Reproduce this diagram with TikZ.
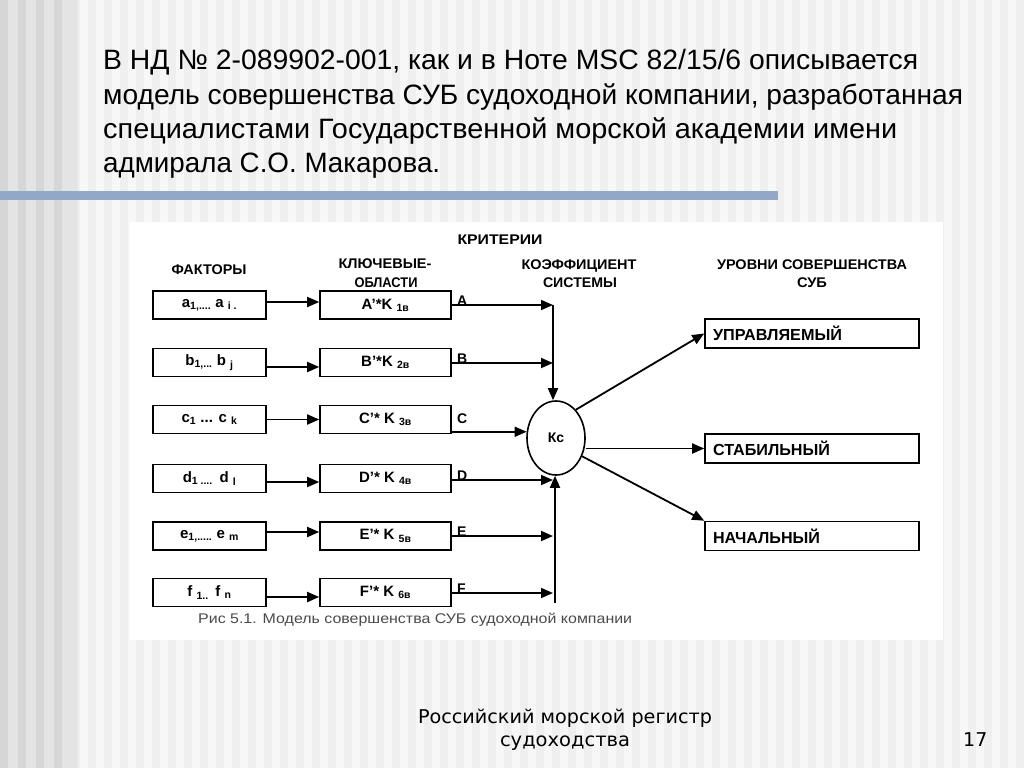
\documentclass[tikz,border=0pt]{standalone}
\usepackage{fontspec}
\setmainfont{Liberation Sans}
\newfontfamily\footfont{DejaVu Sans}
\usetikzlibrary{arrows.meta,shapes.geometric}
\definecolor{bgbase}{HTML}{EFEFEF}
\definecolor{bgstripe}{HTML}{F7F7F7}
\definecolor{bgleft}{HTML}{E4E4E4}
\definecolor{bgleftb}{HTML}{D6D6D6}
\definecolor{barblue}{HTML}{91A8C6}
\definecolor{captgray}{HTML}{4A4A4A}
\newsavebox\fitbox
\newlength\fitlen
\newcommand\fitw[2]{\sbox\fitbox{#2}\setlength\fitlen{\wd\fitbox}\pgfmathsetmacro\fitsc{#1/\fitlen}\scalebox{\fitsc}[1]{\usebox\fitbox}}
\tikzset{
  titletext/.style={inner sep=0pt, anchor=base west, font=\fontsize{28}{32}\selectfont},
  hdr/.style={inner sep=0pt, anchor=base, font=\bfseries\fontsize{14}{16}\selectfont},
  box/.style={draw, line width=1.6pt, inner sep=0pt, font=\bfseries\fontsize{15}{17}\selectfont},
  lbox/.style={box, minimum width=113pt, minimum height=28pt},
  mbox/.style={box, minimum width=131pt, minimum height=28pt},
  rbox/.style={box, minimum width=214pt, minimum height=29pt, text width=198pt, align=left, font=\bfseries\fontsize{16}{18}\selectfont},
  lett/.style={inner sep=0pt, anchor=base west, font=\bfseries\fontsize{14}{16}\selectfont},
  arr/.style={draw, line width=1.8pt, -{Triangle[length=12pt,width=10pt]}},
}
\begin{document}
\begin{tikzpicture}[x=1pt,y=1pt]
\useasboundingbox (0,0) rectangle (1024,-768);
% background
\fill[bgbase] (0,0) rectangle (1024,-768);
\foreach \x in {80,96,...,1016} \fill[bgstripe] (\x,0) rectangle ++(8,-768);
\fill[bgleft] (0,0) rectangle (78,-768);
\foreach \x in {0,18,36,54} \fill[bgleftb] (\x,0) rectangle ++(8,-768);
\fill[barblue] (0,-191) rectangle (778,-200);
% title
\node[titletext] (t1) at (103,-70) {\fitw{815}{В НД № 2-089902-001, как и в Ноте MSC 82/15/6 описывается}};
\node[titletext] (t2) at (103,-104) {\fitw{860}{модель совершенства СУБ судоходной компании, разработанная}};
\node[titletext] (t3) at (103,-138) {\fitw{794}{специалистами Государственной морской академии имени}};
\node[titletext] (t4) at (103,-172) {\fitw{337}{адмирала С.О. Макарова.}};
% panel
\fill[white] (130,-222) rectangle (943,-640);
% headers
\node[hdr] (h0) at (500,-244) {\fitw{85}{КРИТЕРИИ}};
\node[hdr] (h1) at (209,-274) {\fitw{75}{ФАКТОРЫ}};
\node[hdr] (h2a) at (385,-268) {\fitw{93}{КЛЮЧЕВЫЕ-}};
\node[hdr] (h2b) at (386,-287) {\fitw{63}{ОБЛАСТИ}};
\node[hdr] (h3a) at (579,-269) {\fitw{115}{КОЭФФИЦИЕНТ}};
\node[hdr] (h3b) at (580,-287) {\fitw{74}{СИСТЕМЫ}};
\node[hdr] (h4a) at (812,-269) {\fitw{190}{УРОВНИ СОВЕРШЕНСТВА}};
\node[hdr] (h4b) at (812,-287) {\fitw{30}{СУБ}};
% left boxes
\node[lbox] (l1) at (209.5,-305) {a\textsubscript{1,....} a \textsubscript{i .}};
\node[lbox] (l2) at (209.5,-362.5) {b\textsubscript{1,...} b \textsubscript{j}};
\node[lbox] (l3) at (209.5,-419.5) {c\textsubscript{1} ... c \textsubscript{k}};
\node[lbox] (l4) at (209.5,-478.5) {d\textsubscript{1 ....}\, d \textsubscript{l}};
\node[lbox] (l5) at (209.5,-536) {e\textsubscript{1,.....} e \textsubscript{m}};
\node[lbox] (l6) at (209.5,-592.5) {f \textsubscript{1..}\, f \textsubscript{n}};
% middle boxes
\node[mbox] (m1) at (385.5,-305) {A’*K \textsubscript{1в}};
\node[mbox] (m2) at (385.5,-362.5) {B’*K \textsubscript{2в}};
\node[mbox] (m3) at (385.5,-419.5) {C’* K \textsubscript{3в}};
\node[mbox] (m4) at (385.5,-478.5) {D’* K \textsubscript{4в}};
\node[mbox] (m5) at (385.5,-536) {E’* K \textsubscript{5в}};
\node[mbox] (m6) at (385.5,-592.5) {F’* K \textsubscript{6в}};
% circle
\node[draw, ellipse, line width=1.6pt, minimum width=58pt, minimum height=74pt, inner sep=0pt, font=\bfseries\fontsize{14}{16}\selectfont] (kc) at (556,-438) {Кс};
% right boxes
\node[rbox] (u) at (812,-333.5) {\fitw{129}{УПРАВЛЯЕМЫЙ}};
\node[rbox] (s) at (812,-448.5) {\fitw{117}{СТАБИЛЬНЫЙ}};
\node[rbox] (n) at (812,-536) {\fitw{107}{НАЧАЛЬНЫЙ}};
% letters
\node[lett] (la) at (457,-305) {A};
\node[lett] (lb) at (457,-363) {B};
\node[lett] (lc) at (457,-423) {C};
\node[lett] (ld) at (457,-480) {D};
\node[lett] (le) at (457,-536) {E};
\node[lett] (lf) at (457,-593) {F};
% junction coordinates
\coordinate (jA) at (553,-305);
\coordinate (jB) at (553,-363);
\coordinate (jD) at (553,-480);
\coordinate (jE) at (553,-536);
\coordinate (jF) at (553,-593);
\coordinate (jbot) at (555,-603);
% arrows left -> middle
\draw[arr] ([yshift=3pt]l1.east) -- ([yshift=3pt]m1.west);
\draw[arr] ([yshift=-4.5pt]l2.east) -- ([yshift=-4.5pt]m2.west);
\draw[arr] (l3.east) -- (m3.west);
\draw[arr] ([yshift=-3.5pt]l4.east) -- ([yshift=-3.5pt]m4.west);
\draw[arr] ([yshift=4pt]l5.east) -- ([yshift=4pt]m5.west);
\draw[arr] ([yshift=-4.5pt]l6.east) -- ([yshift=-4.5pt]m6.west);
% middle -> junction / circle
\draw[arr] (m1.east) -- (jA);
\draw[arr] (m2.east |- jB) -- (jB);
\draw[arr] (m3.east |- kc.168) -- (kc.168);
\draw[arr] (m4.east |- jD) -- (jD);
\draw[arr] (m5.east |- jE) -- (jE);
\draw[arr] (m6.east |- jF) -- (jF);
\draw[arr] (jA) -- (jA |- kc.north);
\draw[arr] (jbot) -- (jbot |- kc.south);
% circle -> levels
\draw[arr] (kc.55) -- (u.west);
\draw[arr] (kc.east |- s.west) -- (s.west);
\draw[arr] (kc.-35) -- (n.north west);
% caption
\node[inner sep=0pt, anchor=base west, text=captgray, font=\fontsize{14}{16}\selectfont] (cap) at (198,-623) {\fitw{434}{Рис 5.1. Модель совершенства СУБ судоходной компании}};
% footer
\node[inner sep=0pt, anchor=base, font=\footfont\fontsize{19}{22}\selectfont] (f1) at (565,-723) {\fitw{294}{Российский морской регистр}};
\node[inner sep=0pt, anchor=base, font=\footfont\fontsize{19}{22}\selectfont] (f2) at (565,-746) {\fitw{130}{судоходства}};
\node[inner sep=0pt, anchor=base west, font=\footfont\fontsize{19}{22}\selectfont] (pg) at (963,-746) {17};
\end{tikzpicture}
\end{document}
